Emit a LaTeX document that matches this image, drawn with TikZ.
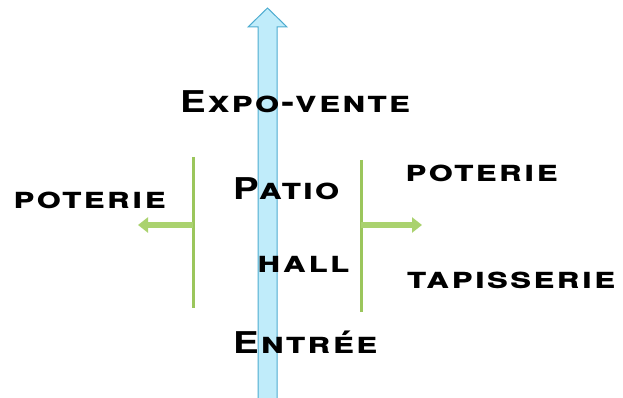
\documentclass[tikz,border=0pt]{standalone}
\usepackage{fontspec}
\setmainfont{TeX Gyre Heros}[FakeStretch=1.28, LetterSpace=6]
\usetikzlibrary{arrows.meta, calc}
\definecolor{shaftblue}{RGB}{192,236,250}
\definecolor{shaftedge}{RGB}{78,172,208}
\definecolor{leafgreen}{RGB}{155,198,92}
\definecolor{sidegreen}{RGB}{170,210,110}

\begin{document}
\begin{tikzpicture}[x=1pt, y=-1pt,
    lbl/.style={anchor=base west, inner sep=0pt, font=\fontsize{30}{30}\selectfont\bfseries},
    bar/.style={leafgreen, line width=3pt},
    side/.style={sidegreen, line width=6pt, -{Triangle[length=10pt, width=15pt]}}]
    \useasboundingbox (0,0) rectangle (623,398);
    % main axis
    \coordinate (axisbot) at (267.5,398);
    \coordinate (axistop) at (267.5,8);
    \draw[shaftedge, fill=shaftblue, line width=1pt] ($(axisbot)+(-9.5,0)$) -- ($(axistop)+(-9.5,19)$) -- ($(axistop)+(-19.5,19)$) -- (axistop) -- ($(axistop)+(19.5,19)$) -- ($(axistop)+(9.5,19)$) -- ($(axisbot)+(9.5,0)$);
    % side bars
    \coordinate (lbartop) at (193,157);
    \coordinate (lbarbot) at (193,308);
    \coordinate (lbarmid) at (193,225);
    \coordinate (lend) at (138,225);
    \coordinate (rbartop) at (361,160);
    \coordinate (rbarbot) at (361,312);
    \coordinate (rbarmid) at (361,225);
    \coordinate (rend) at (422,225);
    \draw[bar] (lbartop) -- (lbarbot);
    \draw[bar] (rbartop) -- (rbarbot);
    \draw[side] (lbarmid) -- (lend);
    \draw[side] (rbarmid) -- (rend);
    % labels
    \node[lbl] (expo) at (180,113) {\textsc{Expo-vente}};
    \node[lbl] (patio) at (233,200) {\textsc{Patio}};
    \node[lbl] (hall) at (257,272) {\textsc{hall}};
    \node[lbl] (entree) at (233,353) {\textsc{Entrée}};
    \node[lbl] (poterieL) at (13,208) {\textsc{poterie}};
    \node[lbl] (poterieR) at (405,182) {\textsc{poterie}};
    \node[lbl] (tapis) at (407,288) {\textsc{tapisserie}};
\end{tikzpicture}
\end{document}
